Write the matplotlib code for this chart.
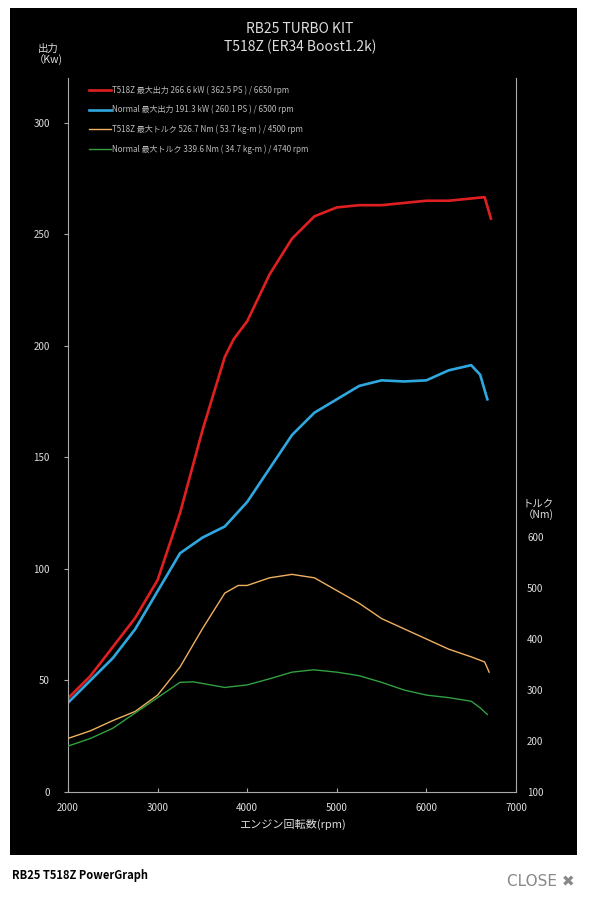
import matplotlib.pyplot as plt

plt.rcParams['font.family'] = ['Noto Sans CJK JP', 'DejaVu Sans']

rpm_red = [2000, 2250, 2500, 2750, 3000, 3250, 3500, 3750, 3850, 4000, 4250, 4500, 4750, 5000, 5250, 5500, 5750, 6000, 6250, 6500, 6650, 6720]
kw_red = [42, 52, 65, 78, 95, 125, 162, 195, 203, 211, 232, 248, 258, 262, 263, 263, 264, 265, 265, 266, 266.6, 257]
rpm_blue = [2000, 2250, 2500, 2750, 3000, 3250, 3500, 3750, 4000, 4250, 4500, 4750, 5000, 5250, 5500, 5750, 6000, 6250, 6500, 6600, 6680]
kw_blue = [40, 50, 60, 73, 90, 107, 114, 119, 130, 145, 160, 170, 176, 182, 184.5, 184, 184.5, 189, 191.3, 187, 176]
rpm_or = [2000, 2250, 2500, 2750, 3000, 3250, 3500, 3750, 3900, 4000, 4250, 4500, 4750, 5000, 5250, 5500, 5750, 6000, 6250, 6500, 6650, 6700]
nm_or = [205, 220, 240, 258, 290, 345, 420, 490, 505, 505, 520, 526.7, 520, 495, 470, 440, 420, 400, 380, 365, 355, 335]
rpm_gr = [2000, 2250, 2500, 2750, 3000, 3250, 3400, 3750, 4000, 4250, 4500, 4740, 5000, 5250, 5500, 5750, 6000, 6250, 6500, 6600, 6680]
nm_gr = [190, 205, 225, 255, 285, 315, 316, 305, 310, 322, 335, 339.6, 335, 328, 315, 300, 290, 285, 278, 265, 252]

labels = ["T518Z 最大出力 266.6 kW ( 362.5 PS ) / 6650 rpm",
          "Normal 最大出力 191.3 kW ( 260.1 PS ) / 6500 rpm",
          "T518Z 最大トルク 526.7 Nm ( 53.7 kg-m ) / 4500 rpm",
          "Normal 最大トルク 339.6 Nm ( 34.7 kg-m ) / 4740 rpm"]

fig = plt.figure(figsize=(5.89, 9), dpi=100)
bg = fig.add_axes([10/589, 45/900, 567/589, 847/900], zorder=-5)
bg.set_facecolor('black')
bg.set_xticks([])
bg.set_yticks([])
for s in bg.spines.values():
    s.set_visible(False)

ax = fig.add_axes([68/589, 108/900, 448/589, 714/900])
ax.patch.set_alpha(0)
ax2 = ax.twinx()

ax.plot(rpm_red, kw_red, color='#e02020', lw=1.9, label=labels[0])
ax.plot(rpm_blue, kw_blue, color='#2fa8e0', lw=1.9, label=labels[1])
ax2.plot(rpm_or, nm_or, color='#f0b060', lw=1.0, label=labels[2])
ax2.plot(rpm_gr, nm_gr, color='#30a040', lw=1.0, label=labels[3])

ax.set_xlim(2000, 7000)
ax.set_ylim(0, 320)
ax2.set_ylim(100, 1500)
ax.set_yticks(range(0, 301, 50))
ax2.set_yticks(range(100, 601, 100))
ax.set_xticks(range(2000, 7001, 1000))
for a in (ax, ax2):
    for s in a.spines.values():
        s.set_visible(False)
ax.spines['left'].set_visible(True)
ax.spines['bottom'].set_visible(True)
ax2.spines['right'].set_visible(True)
for s in (ax.spines['left'], ax.spines['bottom'], ax2.spines['right']):
    s.set_color('#aaaaaa')
    s.set_linewidth(0.8)
ax.tick_params(axis='y', colors='#aaaaaa', labelcolor='#dddddd', labelsize=7, length=3, pad=10)
ax.tick_params(axis='x', colors='#aaaaaa', labelcolor='#dddddd', labelsize=7, direction='in', length=3, pad=8)
ax2.tick_params(axis='y', colors='#aaaaaa', labelcolor='#dddddd', labelsize=7, length=0, pad=8)

ax.set_xlabel("エンジン回転数(rpm)", color='#dddddd', fontsize=8)
fig.text(48/589, 1-55/900, "出力\n（Kw)", color='#dddddd', fontsize=7.5, ha='center', va='center')
fig.text(538/589, 1-510/900, "トルク\n（Nm)", color='#dddddd', fontsize=7.5, ha='center', va='center')
fig.text(300/589, 1-38/900, "RB25 TURBO KIT\nT518Z (ER34 Boost1.2k)", color='#dddddd', fontsize=10, ha='center', va='center', linespacing=1.3)

h1, l1 = ax.get_legend_handles_labels()
h2, l2 = ax2.get_legend_handles_labels()
leg = ax2.legend(h1 + h2, l1 + l2, loc='upper left', bbox_to_anchor=(0.03, 1.0), frameon=False,
                 fontsize=5.8, labelcolor='#bbbbbb', handlelength=2.8, labelspacing=1.3, handletextpad=0.1)

fig.text(12/589, 1-875/900, "RB25 T518Z PowerGraph", color='black', fontsize=8, fontweight='bold', va='center')
fig.text(575/589, 1-881/900, "CLOSE ✖", color='#888888', fontsize=11, ha='right', va='center', family=['DejaVu Sans'])

fig.savefig('out.png', dpi=100, facecolor='white')
